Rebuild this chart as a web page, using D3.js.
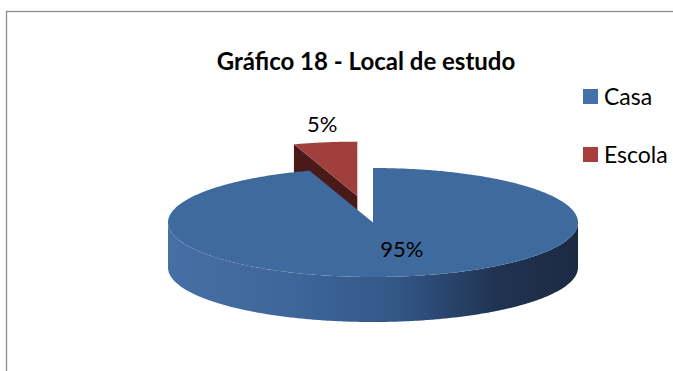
<!DOCTYPE html>
<html>
<head>
<meta charset="utf-8">
<script src="https://cdn.jsdelivr.net/npm/d3@7"></script>
<style>
  html, body { margin: 0; padding: 0; background: #fff; }
  svg { display: block; }
</style>
</head>
<body>
<svg id="chart" width="673" height="371"></svg>
<script>
// Chart data
const title = "Gráfico 18 - Local de estudo";
const categories = ["Casa", "Escola"];
const values = [95, 5];
const valueLabels = ["95%", "5%"];
const exploded = [false, true];

// Colours
const topColors = ["#3f6a9e", "#9f403d"];
const cutColors = ["#2b4a70", "#4a1a18"];
const legendColors = ["#4471aa", "#a5403d"];

const svg = d3.select("#chart");

// Outer frame
svg.append("rect")
  .attr("x", 6.5).attr("y", 11.5)
  .attr("width", 720).attr("height", 420)
  .attr("fill", "#fff")
  .attr("stroke", "#8c8c8c").attr("stroke-width", 1.3);

// Pie geometry (tilted disc)
const cx = 373, cy = 222.5, rx = 205, ry = 54.5, depth = 45, explode = 0.49;

const pie = d3.pie().sort(null).startAngle(0).endAngle(2 * Math.PI).value(d => d);
const arcs = pie(values);

// Projection of a point on the disc (angle clockwise from 12 o'clock)
function pt(a, r, ox, oy, dz) {
  return [ox + rx * r * Math.sin(a), oy - ry * r * Math.cos(a) + (dz || 0)];
}
function arcPts(a0, a1, ox, oy, dz) {
  const n = Math.max(2, Math.ceil(Math.abs(a1 - a0) / 0.01));
  return d3.range(n + 1).map(i => pt(a0 + (a1 - a0) * i / n, 1, ox, oy, dz));
}
const line = d3.line();

// Horizontal shading on the curved wall
const defs = svg.append("defs");
const grad = defs.append("linearGradient")
  .attr("id", "wallBlue").attr("gradientUnits", "userSpaceOnUse")
  .attr("x1", cx - rx).attr("x2", cx + rx).attr("y1", 0).attr("y2", 0);
[[0, "#4670a5"], [0.3, "#3e6699"], [0.55, "#335888"], [0.8, "#213353"], [1, "#1c2a42"]]
  .forEach(([o, c]) => grad.append("stop").attr("offset", o).attr("stop-color", c));
const gradR = defs.append("linearGradient")
  .attr("id", "wallRed").attr("gradientUnits", "userSpaceOnUse")
  .attr("x1", cx - rx).attr("x2", cx + rx).attr("y1", 0).attr("y2", 0);
[[0, "#a8443f"], [1, "#4a1a18"]]
  .forEach(([o, c]) => gradR.append("stop").attr("offset", o).attr("stop-color", c));

const pieG = svg.append("g");

// Draw slices back to front: exploded slice first
const order = d3.range(arcs.length).sort((a, b) => (exploded[b] ? 1 : 0) - (exploded[a] ? 1 : 0));

order.forEach(i => {
  const d = arcs[i];
  const mid = (d.startAngle + d.endAngle) / 2;
  const e = exploded[i] ? explode : 0;
  const ox = cx + rx * e * Math.sin(mid);
  const oy = cy - ry * e * Math.cos(mid);
  const g = pieG.append("g");

  // Radial cut faces, drawn only when they face the viewer
  const faces = [];
  if (Math.sin(d.startAngle) < -1e-6) faces.push(d.startAngle);
  if (Math.sin(d.endAngle) > 1e-6) faces.push(d.endAngle);
  faces.forEach(a => {
    const c0 = pt(a, 0, ox, oy), c1 = pt(a, 1, ox, oy);
    const poly = [c0, c1, [c1[0], c1[1] + depth], [c0[0], c0[1] + depth]];
    g.append("path").attr("d", line(poly) + "Z").attr("fill", cutColors[i]);
  });

  // Curved wall: only the front half (90°..270°)
  const w0 = Math.max(d.startAngle, Math.PI / 2), w1 = Math.min(d.endAngle, 3 * Math.PI / 2);
  if (w1 > w0) {
    const topArc = arcPts(w0, w1, ox, oy, 0);
    const botArc = arcPts(w1, w0, ox, oy, depth);
    g.append("path").attr("d", line(topArc.concat(botArc)) + "Z")
      .attr("fill", i === 0 ? "url(#wallBlue)" : "url(#wallRed)");
  }

  // Top face
  const topPts = [pt(0, 0, ox, oy)].concat(arcPts(d.startAngle, d.endAngle, ox, oy, 0));
  g.append("path").attr("d", line(topPts) + "Z").attr("fill", topColors[i]);
});

// Value labels
const font = "Lato, 'Open Sans', sans-serif";
arcs.forEach((d, i) => {
  const mid = (d.startAngle + d.endAngle) / 2;
  let x, y;
  if (exploded[i]) {
    const ox = cx + rx * explode * Math.sin(mid);
    const oy = cy - ry * explode * Math.cos(mid);
    const p = pt(mid, 1, ox, oy);
    x = p[0] - 3; y = p[1] - 10;
  } else {
    x = cx + rx * 0.9 * Math.sin(mid);
    y = cy - ry * 0.5 * Math.cos(mid) + 8;
  }
  svg.append("text").attr("x", x).attr("y", y)
    .attr("text-anchor", "middle")
    .attr("font-family", font).attr("font-size", 22)
    .attr("fill", "#000").text(valueLabels[i]);
});

// Title
svg.append("text").attr("x", 366).attr("y", 70)
  .attr("text-anchor", "middle")
  .attr("font-family", font).attr("font-weight", "bold").attr("font-size", 24)
  .attr("fill", "#000").text(title);

// Legend
const legend = svg.append("g").attr("transform", "translate(583,89)");
categories.forEach((c, i) => {
  const row = legend.append("g").attr("transform", `translate(0,${i * 58})`);
  row.append("rect").attr("width", 15).attr("height", 15).attr("fill", legendColors[i]);
  row.append("text").attr("x", 21).attr("y", 16)
    .attr("font-family", font).attr("font-size", 23)
    .attr("fill", "#000").text(c);
});
</script>
</body>
</html>
